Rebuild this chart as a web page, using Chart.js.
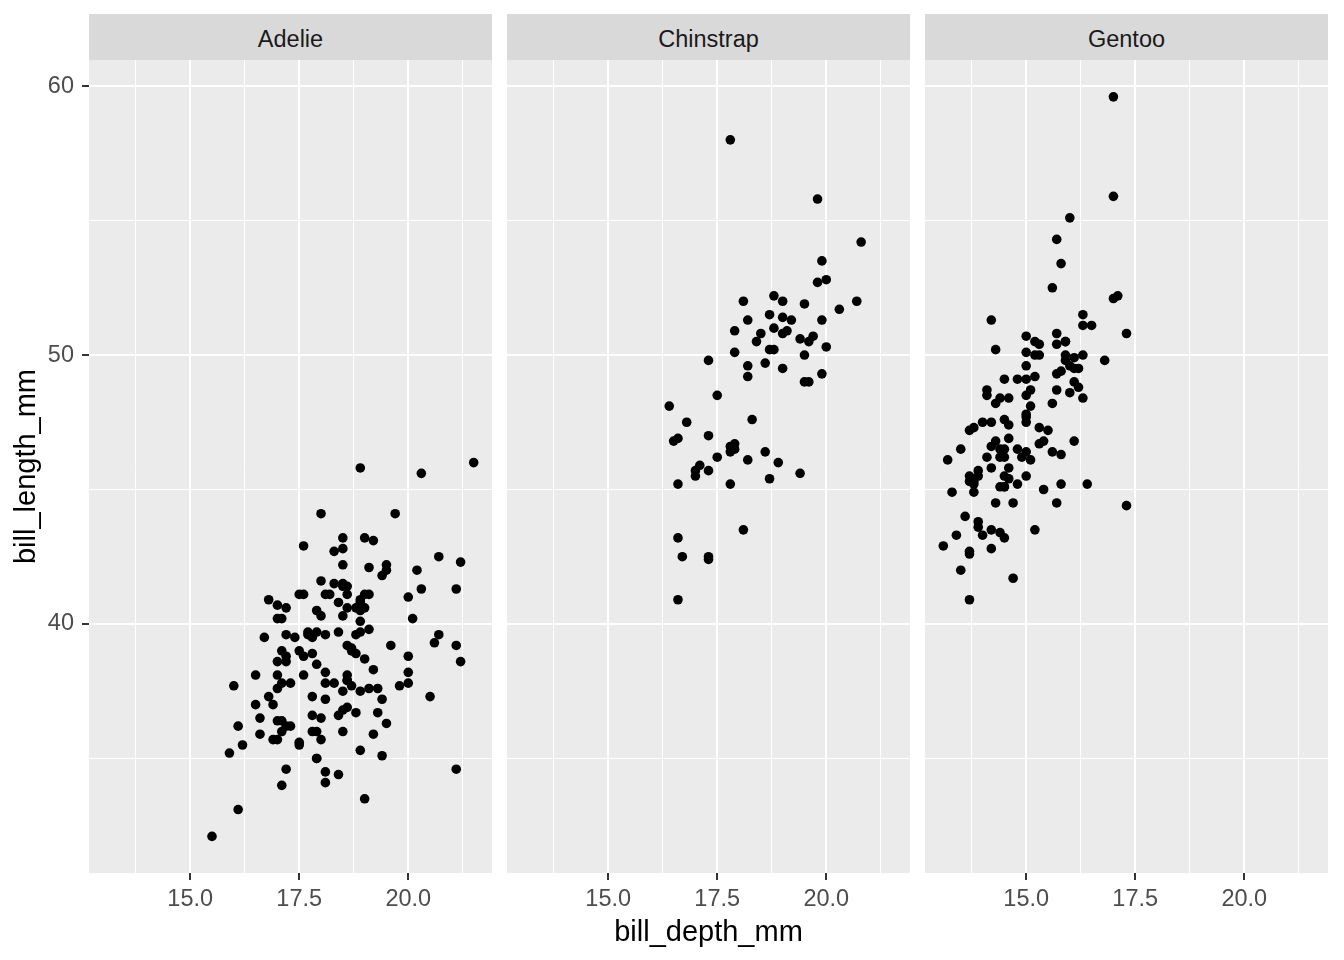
<!DOCTYPE html>
<html>
<head>
<meta charset="utf-8">
<script src="https://cdn.jsdelivr.net/npm/chart.js@4.4.1/dist/chart.umd.min.js"></script>
<style>
  body { margin: 0; background: #ffffff; }
  #wrap { position: relative; width: 1344px; height: 960px; font-family: 'Liberation Sans', Arial, sans-serif; }
  .strip {
    position: absolute; top: 14px; height: 46px; line-height: 50px; overflow: hidden;
    background: #D9D9D9; color: #1A1A1A; font-size: 23.5px; text-align: center;
  }
  canvas { position: absolute; top: 60px; }
</style>
</head>
<body>
<div id="wrap">
  <div class="strip" style="left:89px;width:403px">Adelie</div>
  <div class="strip" style="left:507px;width:403px">Chinstrap</div>
  <div class="strip" style="left:925px;width:403px">Gentoo</div>
  <canvas id="adelieChart" width="492" height="900" style="left:0px"></canvas>
  <canvas id="chinstrapChart" width="403" height="900" style="left:507px"></canvas>
  <canvas id="gentooChart" width="403" height="900" style="left:925px"></canvas>
</div>
<script>
// bill_depth_mm (x) and bill_length_mm (y) per species
const adelieDepth = [18.7,17.4,18.0,19.3,20.6,17.8,19.6,18.1,20.2,17.1,
  17.3,17.6,21.2,21.1,17.8,19.0,20.7,18.4,21.5,18.3,
  18.7,19.2,18.1,17.2,18.9,18.6,17.9,18.6,18.9,16.7,
  18.1,17.8,18.9,17.0,21.1,20.0,18.5,19.3,19.1,18.0,
  18.4,18.5,19.7,16.9,18.8,19.0,18.9,17.9,21.2,17.7,
  18.9,17.9,19.5,18.1,18.6,17.5,18.8,16.6,19.1,16.9,
  21.1,17.0,18.2,17.1,18.0,16.2,19.1,16.6,19.4,19.0,
  18.4,17.2,18.9,17.5,18.5,16.8,19.4,16.1,19.1,17.2,
  17.6,18.8,19.4,17.8,20.3,19.5,18.6,19.2,18.8,18.0,
  18.1,17.1,18.1,17.3,18.9,18.6,18.5,16.1,18.5,17.9,
  20.0,16.0,20.0,18.6,18.9,17.2,20.0,17.0,19.0,16.5,
  20.3,17.7,19.5,20.7,18.3,17.0,20.5,17.0,18.6,17.2,
  19.8,17.0,18.5,15.9,19.0,17.6,18.3,17.1,18.0,17.9,
  19.2,18.5,18.5,17.6,17.5,17.5,20.1,16.5,17.9,17.1,
  17.2,15.5,17.0,16.8,18.7,18.6,18.4,17.8,18.1,17.1,
  18.5];
const adelieLength = [39.1,39.5,40.3,36.7,39.3,38.9,39.2,34.1,42.0,37.8,
  37.8,41.1,38.6,34.6,36.6,38.7,42.5,34.4,46.0,37.8,
  37.7,35.9,38.2,38.8,35.3,40.6,40.5,37.9,40.5,39.5,
  37.2,39.5,40.9,36.4,39.2,38.8,42.2,37.6,39.8,36.5,
  40.8,36.0,44.1,37.0,39.6,41.1,37.5,36.0,42.3,39.6,
  40.1,35.0,42.0,34.5,41.4,39.0,40.6,36.5,37.6,35.7,
  41.3,37.6,41.1,36.4,41.6,35.5,41.1,35.9,41.8,33.5,
  39.7,39.6,45.8,35.5,42.8,40.9,37.2,36.2,42.1,34.6,
  42.9,36.7,35.1,37.3,41.3,36.3,36.9,38.3,38.9,35.7,
  41.1,34.0,39.6,36.2,40.8,38.1,40.3,33.1,43.2,35.0,
  41.0,37.7,37.8,37.9,39.7,38.6,38.2,38.1,43.2,38.1,
  45.6,39.7,42.2,39.6,42.7,38.6,37.3,35.7,41.1,36.2,
  37.7,40.2,41.4,35.2,40.6,38.8,41.5,39.0,44.1,38.5,
  43.1,36.8,37.5,38.1,41.1,35.6,40.2,37.0,39.7,40.2,
  40.6,32.1,40.7,37.3,39.0,39.2,36.6,36.0,37.8,36.0,
  41.5];

const chinstrapDepth = [17.9,19.5,19.2,18.7,19.8,17.8,18.2,18.2,18.9,19.9,
  17.8,20.3,17.3,18.1,17.1,19.6,20.0,17.8,18.6,18.2,
  17.3,17.5,16.6,19.4,17.9,19.0,18.4,19.0,17.8,20.0,
  16.6,20.8,16.7,18.8,18.6,16.8,18.3,20.7,16.6,19.9,
  19.5,17.5,19.1,17.0,17.9,18.5,17.9,19.6,18.7,17.3,
  16.4,19.0,17.3,19.7,17.3,18.8,16.6,19.9,18.8,19.4,
  19.5,16.5,17.0,19.8,18.1,18.2,19.0,18.7];
const chinstrapLength = [46.5,50.0,51.3,45.4,52.7,45.2,46.1,51.3,46.0,51.3,
  46.6,51.7,47.0,52.0,45.9,50.5,50.3,58.0,46.4,49.2,
  42.4,48.5,43.2,50.6,46.7,52.0,50.5,49.5,46.4,52.8,
  40.9,54.2,42.5,51.0,49.7,47.5,47.6,52.0,46.9,53.5,
  49.0,46.2,50.9,45.5,50.9,50.8,50.1,49.0,51.5,49.8,
  48.1,51.4,45.7,50.7,42.5,52.2,45.2,49.3,50.2,45.6,
  51.9,46.8,45.7,55.8,43.5,49.6,50.8,50.2];

const gentooDepth = [13.2,16.3,14.1,15.2,14.5,13.5,14.6,15.3,13.4,15.4,
  13.7,16.1,13.7,14.6,14.6,15.7,13.5,15.2,14.5,15.1,
  14.3,14.5,14.5,15.8,13.1,15.1,14.3,15.0,14.3,15.3,
  15.3,14.2,14.5,17.0,14.8,16.3,13.7,17.3,13.6,15.7,
  13.7,16.0,13.7,15.0,15.9,13.9,13.9,15.9,13.3,15.8,
  14.2,14.1,14.4,15.0,14.4,15.4,13.9,15.0,14.5,15.3,
  13.8,14.9,13.9,15.7,14.2,16.8,14.4,16.2,14.2,15.0,
  15.0,15.6,15.6,14.8,15.0,16.0,14.2,16.3,13.8,16.4,
  14.5,15.6,14.6,15.9,13.8,17.3,14.4,14.2,14.0,17.0,
  15.0,17.1,14.5,16.1,14.7,15.7,15.8,14.6,14.4,16.5,
  15.0,17.0,15.5,15.0,13.8,16.1,14.7,15.8,14.0,15.1,
  15.2,15.9,15.2,16.3,14.1,16.0,15.7,16.2,13.7,14.3,
  15.7,14.8,16.1];
const gentooLength = [46.1,50.0,48.7,50.0,47.6,46.5,45.4,46.7,43.3,46.8,
  40.9,49.0,45.5,48.4,45.8,49.3,42.0,49.2,46.2,48.7,
  50.2,45.1,46.5,46.3,42.9,46.1,44.5,47.8,48.2,50.0,
  47.3,42.8,45.1,59.6,49.1,48.4,42.6,44.4,44.0,48.7,
  42.7,49.6,45.3,49.6,50.5,43.6,45.5,50.5,44.9,45.2,
  46.6,48.5,45.1,50.1,46.5,45.0,43.8,45.5,43.2,50.4,
  45.3,46.2,45.7,54.3,45.8,49.8,46.2,49.5,43.5,50.7,
  47.7,46.4,48.2,46.5,46.4,48.6,47.5,51.1,45.2,45.2,
  49.1,52.5,47.4,50.0,44.9,50.8,43.4,51.3,47.5,52.1,
  47.5,52.2,45.5,49.5,44.5,50.8,49.4,46.9,48.4,51.1,
  48.5,55.9,47.2,49.1,47.3,46.8,41.7,53.4,43.3,48.1,
  50.5,49.8,43.5,51.5,46.2,55.1,44.5,48.8,47.2,46.8,
  50.4,45.2,49.9];

// axis ranges and breaks (major ones get labels, minor ones only a thin line)
const xRange = [12.68, 21.92];
const yRange = [30.74, 60.97];
const xBreaks = [13.75, 15, 16.25, 17.5, 18.75, 20, 21.25];
const xMajor = [15, 17.5, 20];
const yBreaks = [35, 40, 45, 50, 55, 60];
const yMajor = [40, 50, 60];

const FONT = "'Liberation Sans', Arial, sans-serif";

const panelBg = {
    id: 'panelBg',
    beforeDraw(chart) {
        const { ctx, chartArea } = chart;
        ctx.save();
        ctx.fillStyle = '#EBEBEB';
        ctx.fillRect(chartArea.left, chartArea.top, chartArea.width, chartArea.height);
        ctx.restore();
    }
};

function gridFor(major, showTicks) {
    return {
        color: '#FFFFFF',
        lineWidth: (c) => major.includes(c.tick && c.tick.value) ? 2 : 1,
        drawTicks: showTicks,
        tickLength: 7,
        tickWidth: 2,
        tickColor: (c) => major.includes(c.tick && c.tick.value) ? '#333333' : 'rgba(0,0,0,0)'
    };
}

function makePanel(canvasId, depth, length, opts) {
    const canvas = document.getElementById(canvasId);
    const points = depth.map((d, i) => ({ x: d, y: length[i] }));

    return new Chart(canvas.getContext('2d'), {
        type: 'scatter',
        data: {
            datasets: [{
                data: points,
                pointRadius: 4.8,
                pointBackgroundColor: '#000000',
                pointBorderWidth: 0
            }]
        },
        plugins: [panelBg],
        options: {
            responsive: false,
            animation: false,
            events: [],
            layout: { padding: 0, autoPadding: false },
            plugins: { legend: { display: false }, tooltip: { enabled: false } },
            scales: {
                x: {
                    type: 'linear',
                    min: xRange[0],
                    max: xRange[1],
                    afterBuildTicks: (axis) => { axis.ticks = xBreaks.map(v => ({ value: v })); },
                    afterFit: (s) => { s.height = 87; s.paddingLeft = 0; s.paddingRight = 0; },
                    border: { display: false },
                    grid: gridFor(xMajor, true),
                    ticks: {
                        padding: 5,
                        color: '#4D4D4D',
                        font: { family: FONT, size: 23.5 },
                        maxRotation: 0,
                        autoSkip: false,
                        callback: (v) => xMajor.includes(v) ? v.toFixed(1) : ''
                    },
                    title: {
                        display: !!opts.xTitle,
                        text: opts.xTitle || '',
                        color: '#000000',
                        font: { family: FONT, size: 29 },
                        padding: { top: 0, bottom: 10 }
                    }
                },
                y: {
                    type: 'linear',
                    min: yRange[0],
                    max: yRange[1],
                    afterBuildTicks: (axis) => { axis.ticks = yBreaks.map(v => ({ value: v })); },
                    afterFit: (s) => { s.width = opts.showY ? 89 : 0; s.paddingTop = 0; s.paddingBottom = 0; },
                    border: { display: false },
                    grid: gridFor(yMajor, !!opts.showY),
                    ticks: {
                        display: !!opts.showY,
                        padding: 8,
                        color: '#4D4D4D',
                        font: { family: FONT, size: 23.5 },
                        autoSkip: false,
                        callback: (v) => yMajor.includes(v) ? String(v) : ''
                    },
                    title: {
                        display: !!opts.showY,
                        text: 'bill_length_mm',
                        color: '#000000',
                        font: { family: FONT, size: 29 },
                        padding: { top: 10, bottom: 0 }
                    }
                }
            }
        }
    });
}

makePanel('adelieChart', adelieDepth, adelieLength, { showY: true });
makePanel('chinstrapChart', chinstrapDepth, chinstrapLength, { xTitle: 'bill_depth_mm' });
makePanel('gentooChart', gentooDepth, gentooLength, {});
</script>
</body>
</html>
